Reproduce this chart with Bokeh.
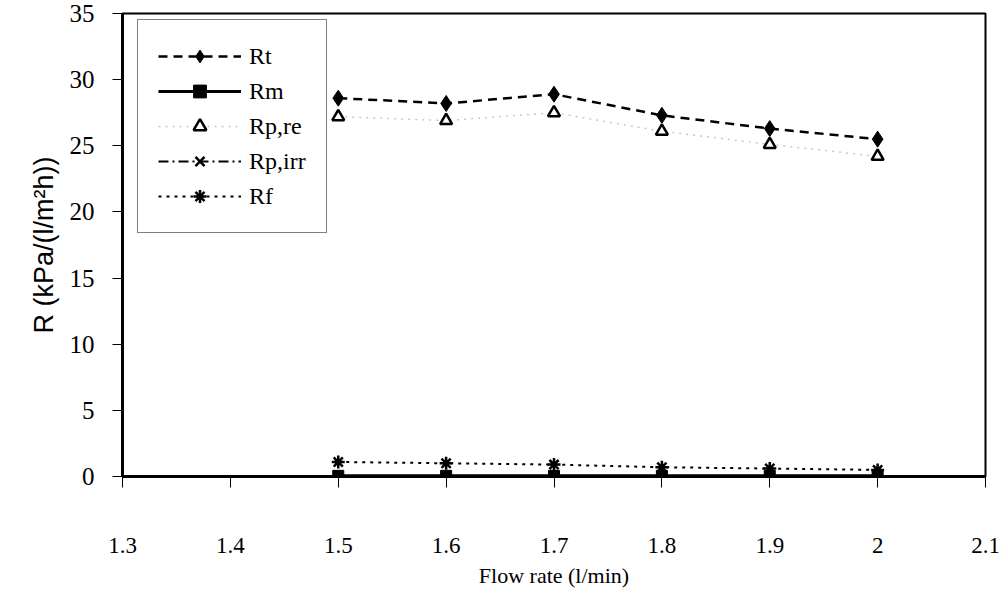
from bokeh.plotting import figure
from bokeh.models import Range1d, Legend, LegendItem, FixedTicker
from bokeh.embed import file_html
from bokeh.resources import INLINE

flow = [1.5, 1.6, 1.7, 1.8, 1.9, 2.0]
rt = [28.6, 28.2, 28.9, 27.3, 26.3, 25.5]
rm = [0.05, 0.05, 0.05, 0.05, 0.05, 0.05]
rp_re = [27.2, 26.9, 27.5, 26.1, 25.1, 24.2]
rp_irr = [-0.1, -0.1, -0.1, -0.1, -0.1, -0.1]
rf = [1.1, 1.0, 0.9, 0.7, 0.6, 0.5]
x_ticks = [1.3, 1.4, 1.5, 1.6, 1.7, 1.8, 1.9, 2.0, 2.1]
y_ticks = [0, 5, 10, 15, 20, 25, 30, 35]

serif = "Liberation Serif"
sans = "Liberation Sans"

p = figure(width=1003, height=600, output_backend="svg", toolbar_location=None,
           x_range=Range1d(1.3, 2.1), y_range=Range1d(0, 35),
           min_border_left=122, min_border_right=18, min_border_top=13, min_border_bottom=124)
p.background_fill_color = "white"
p.border_fill_color = "white"
p.outline_line_color = "black"
p.outline_line_width = 2
p.grid.visible = False

# series
r_rt_l = p.line(flow, rt, line_color="black", line_width=2.5, line_dash="9 6")
r_rt_m = p.scatter(flow, rt, marker="diamond", size=16, fill_color="black", line_color="black")
r_rm_l = p.line(flow, rm, line_color="black", line_width=3)
r_rm_m = p.scatter(flow, rm, marker="square", size=11, fill_color="black", line_color="black")
r_re_l = p.line(flow, rp_re, line_color="#c8c8c8", line_width=1.5, line_dash="2 5")
r_re_m = p.scatter(flow, rp_re, marker="triangle", size=12, fill_color="white", line_color="black", line_width=2.5)
r_irr_l = p.line(flow, rp_irr, line_color="black", line_width=2, line_dash="10 4 2 4")
r_irr_m = p.scatter(flow, rp_irr, marker="x", size=11, line_color="black", line_width=2.5)
r_rf_l = p.line(flow, rf, line_color="black", line_width=2, line_dash="3 5")
r_rf_m = p.scatter(flow, rf, marker="asterisk", size=13, line_color="black", line_width=2.5)

legend = Legend(items=[
    LegendItem(label="Rt", renderers=[r_rt_l, r_rt_m]),
    LegendItem(label="Rm", renderers=[r_rm_l, r_rm_m]),
    LegendItem(label="Rp,re", renderers=[r_re_l, r_re_m]),
    LegendItem(label="Rp,irr", renderers=[r_irr_l, r_irr_m]),
    LegendItem(label="Rf", renderers=[r_rf_l, r_rf_m]),
], location=(15, 243))
legend.label_text_font = serif
legend.label_text_font_size = "24px"
legend.label_text_color = "black"
legend.glyph_width = 83
legend.glyph_height = 32
legend.label_height = 32
legend.spacing = 3
legend.padding = 20
legend.margin = 0
legend.label_standoff = 8
legend.border_line_color = "black"
legend.border_line_width = 1
legend.background_fill_alpha = 1
p.add_layout(legend, "center")

# x axis
xa = p.xaxis[0]
xa.ticker = FixedTicker(ticks=x_ticks)
xa.axis_line_width = 3
xa.axis_line_color = "black"
xa.major_tick_line_color = "black"
xa.major_tick_out = 11
xa.major_tick_in = 0
xa.minor_tick_out = 0
xa.minor_tick_in = 0
xa.major_label_standoff = 50
xa.major_label_text_font = serif
xa.major_label_text_font_size = "23px"
xa.major_label_text_color = "black"
xa.axis_label = "Flow rate (l/min)"
xa.axis_label_text_font = serif
xa.axis_label_text_font_size = "22px"
xa.axis_label_text_font_style = "normal"
xa.axis_label_text_color = "black"
xa.axis_label_standoff = 7

ya = p.yaxis[0]
ya.ticker = FixedTicker(ticks=y_ticks)
ya.axis_line_width = 3
ya.axis_line_color = "black"
ya.major_tick_line_color = "black"
ya.major_tick_out = 10
ya.major_tick_in = 0
ya.minor_tick_out = 0
ya.minor_tick_in = 0
ya.major_label_standoff = 18
ya.major_label_text_font = serif
ya.major_label_text_font_size = "25px"
ya.major_label_text_color = "black"
ya.axis_label = "R (kPa/(l/m\u00b2h))"
ya.axis_label_text_font = sans
ya.axis_label_text_font_size = "27px"
ya.axis_label_text_font_style = "normal"
ya.axis_label_text_color = "black"
ya.axis_label_standoff = 8

open("out.html", "w").write(file_html(p, INLINE))
